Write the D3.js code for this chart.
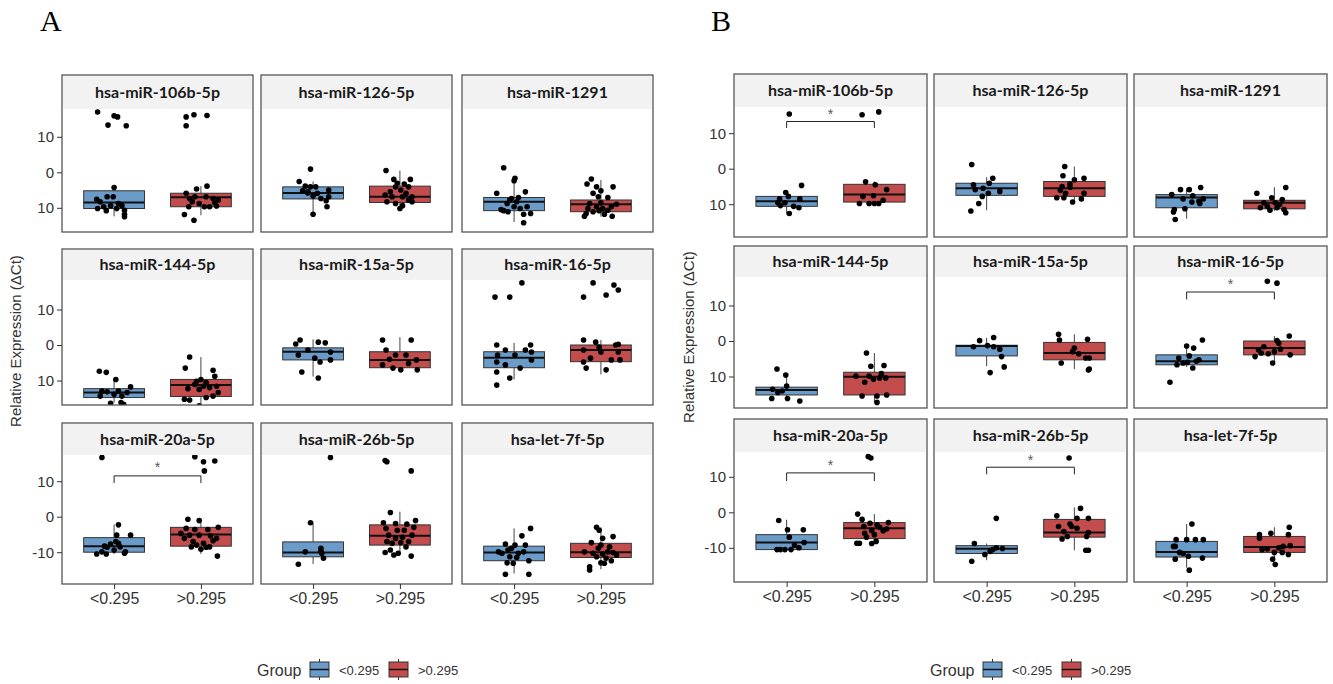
<!DOCTYPE html>
<html><head><meta charset="utf-8">
<script src="https://cdn.jsdelivr.net/npm/d3@7"></script>
<style>body{margin:0;background:#fff}svg{display:block}</style>
</head><body>
<svg id="chart" width="1333" height="684"></svg>
<script>
// ---------------- DATA ----------------
const groups = ["<0.295", ">0.295"];
const mirnas = ["hsa-miR-106b-5p","hsa-miR-126-5p","hsa-miR-1291","hsa-miR-144-5p","hsa-miR-15a-5p","hsa-miR-16-5p","hsa-miR-20a-5p","hsa-miR-26b-5p","hsa-let-7f-5p"];
const yTicks = [-10, 0, 10];
const yTickLabelsUpper = ["10", "0", "10"];   // as printed in rows 1-2
const yTickLabelsLower = ["-10", "0", "10"];  // as printed in row 3
const yTitle = "Relative Expression (\u0394Ct)";

// box stats per miRNA: [whiskerLow, q1, median, q3, whiskerHigh] for <0.295 and >0.295
const boxA = [
  [[-12.4,-10.2,-8.5,-5.2,-4.3],[-12.1,-9.7,-7.0,-5.9,-3.9]],
  [[-11.6,-7.5,-5.8,-4.1,-2.6],[-10.2,-8.5,-6.9,-3.9,0.5]],
  [[-14.0,-10.8,-8.3,-7.1,-1.2],[-12.5,-11.1,-9.0,-7.8,-2.2]],
  [[-16.2,-14.8,-13.4,-12.3,-9.7],[-16.7,-14.5,-11.3,-9.7,-3.4]],
  [[-8.9,-4.2,-1.9,-0.8,1.6],[-7.5,-6.4,-4.2,-1.9,2.2]],
  [[-9.7,-6.4,-3.6,-1.9,0.6],[-8.3,-4.7,-1.4,0.0,1.4]],
  [[-10.5,-10.0,-8.3,-5.9,-2.2],[-10.5,-8.3,-5.0,-3.0,-0.5]],
  [[-13.3,-11.3,-10.1,-7.1,-1.7],[-10.8,-8.0,-5.4,-2.3,1.4]],
  [[-16.0,-12.4,-10.1,-8.3,-3.3],[-14.8,-11.5,-10.0,-7.5,-3.0]]
];
const boxB = [
  [[-12.6,-10.6,-9.2,-7.8,-6.7],[-9.8,-9.4,-7.3,-4.4,-3.6]],
  [[-11.7,-7.5,-5.5,-4.1,-2.4],[-9.6,-7.8,-5.5,-3.6,0.6]],
  [[-14.1,-11.0,-8.1,-7.3,-5.5],[-11.9,-11.3,-9.6,-8.9,-5.2]],
  [[-16.6,-15.2,-13.8,-13.0,-9.4],[-17.3,-15.2,-10.1,-8.8,-3.4]],
  [[-7.1,-4.2,-1.4,-1.2,0.9],[-7.9,-5.3,-3.4,-0.4,1.9]],
  [[-7.3,-6.7,-5.7,-3.9,-1.1],[-6.2,-3.9,-2.0,0.0,1.4]],
  [[-10.5,-10.5,-8.5,-6.3,-2.1],[-8.8,-7.4,-4.5,-2.9,-0.5]],
  [[-13.5,-11.6,-10.3,-9.4,-8.8],[-10.7,-7.0,-5.7,-2.0,1.4]],
  [[-15.6,-12.6,-11.2,-8.2,-3.3],[-12.9,-11.3,-9.8,-6.8,-4.2]]
];

// jittered points: [horizontal jitter (category units), value]
const pointsA_low = [
  [[-0.19,17.0],[-0.07,13.3],[0,15.9],[0.04,15.6],[0.14,13.1],[0,-4.3],[-0.08,-6.9],[-0.01,-6.9],[-0.2,-7.6],[-0.16,-8.3],[-0.19,-10.2],[-0.09,-10.8],[-0.04,-9.4],[0.05,-8.8],[0.09,-9.4],[0.12,-10.7],[0.12,-11.8],[0.12,-12.5],[-0.12,-9.7],[0.03,-10.2]],
  [[-0.03,0.9],[-0.16,-2.6],[-0.09,-3.9],[-0.03,-4.1],[0.03,-4.1],[-0.12,-5.2],[-0.06,-5.8],[0,-6.7],[0.09,-7.4],[0.18,-5.0],[0.18,-6.9],[0.15,-8.0],[0.16,-9.7],[0,-11.8],[-0.06,-5.5],[0.05,-5.9]],
  [[-0.12,1.3],[0.01,-1.7],[0,-2.4],[-0.2,-5.9],[0.13,-5.5],[0.05,-7.1],[-0.05,-7.8],[-0.08,-8.8],[-0.12,-10.8],[-0.07,-11.1],[0,-9.7],[0.07,-10.2],[0.15,-9.7],[0.19,-11.6],[0.11,-11.8],[0.03,-8.3],[-0.03,-7.4],[-0.15,-10.5],[0.11,-14.2]],
  [[-0.17,-7.4],[-0.09,-7.7],[0.02,-9.7],[0.19,-11.8],[-0.14,-13.0],[-0.08,-13.2],[0,-13.9],[0.05,-13.0],[0.09,-14.4],[-0.04,-16.4],[0.08,-16.2],[0.11,-16.7],[-0.16,-14.4],[0.15,-13.4]],
  [[-0.15,1.4],[0.06,0.8],[-0.2,0.3],[0.14,0.6],[0.2,-2.0],[-0.06,-1.4],[0.02,-3.7],[-0.17,-2.8],[0.08,-4.8],[-0.13,-7.6],[0.06,-9.3],[0.2,-4.2]],
  [[-0.22,13.5],[-0.05,13.5],[0.09,17.5],[-0.2,0],[-0.1,-1.4],[0.19,0],[-0.19,-2.8],[0.01,-2.8],[0.2,-4.2],[-0.2,-4.8],[-0.1,-5.6],[0.07,-6.5],[-0.2,-7.6],[-0.05,-9.3],[-0.2,-11.3],[0.13,-1.4],[0.2,-2.0]],
  [[-0.14,16.7],[0.05,-2.3],[0.03,-5.2],[0.19,-5.2],[0.02,-7.0],[-0.04,-7.7],[-0.11,-8.3],[-0.08,-8.6],[-0.2,-10.5],[-0.09,-10.5],[0,-9.4],[0.07,-8.5],[0.12,-10.3],[0.13,-9.9],[-0.14,-9.9],[0.05,-7.5]],
  [[0.2,16.7],[-0.03,-1.7],[-0.09,-9.9],[0.09,-8.9],[0.1,-10.3],[0.12,-11.7],[0.09,-9.6],[-0.17,-13.4]],
  [[0.19,-3.3],[0.09,-5.4],[-0.1,-7.7],[0.01,-8.0],[0.13,-8.0],[-0.07,-9.4],[-0.18,-9.9],[0.05,-10.3],[0.11,-9.9],[-0.05,-11.3],[0.03,-11.5],[0.17,-12.4],[-0.08,-13.0],[-0.01,-13.1],[-0.1,-16.2],[0.17,-16.2],[-0.14,-10.3],[-0.03,-8.9]]
];
const pointsA_high = [
  [[-0.17,13.1],[-0.17,15.6],[-0.08,16.2],[0.07,16.0],[0.07,-3.9],[-0.05,-4.7],[-0.17,-5.9],[-0.07,-6.9],[-0.1,-8.3],[-0.14,-9.7],[-0.19,-11.9],[-0.08,-13.5],[0.14,-7.4],[0.2,-7.8],[0.18,-9.5],[0.1,-9.7],[0.04,-9.7],[-0.02,-8.8],[-0.13,-7.4],[0.06,-6.9],[0.16,-8.6]],
  [[-0.16,0.5],[-0.07,-2.0],[0.12,-2.0],[0.05,-3.3],[-0.05,-4.1],[-0.11,-5.5],[-0.17,-6.4],[-0.15,-8.3],[-0.05,-8.8],[0,-10.2],[0.03,-6.9],[0.1,-7.8],[0.14,-8.3],[0.07,-5.9],[-0.09,-6.9],[0.01,-5.0],[-0.03,-3.1],[0.1,-4.1],[0.14,-6.9],[0.03,-9.4]],
  [[-0.11,-1.9],[-0.16,-3.3],[-0.05,-4.1],[0.14,-4.1],[0,-5.2],[-0.09,-5.9],[-0.03,-6.9],[0.08,-7.1],[-0.13,-8.8],[-0.05,-9.7],[0.02,-10.2],[0.12,-9.7],[0.18,-9.0],[-0.17,-11.6],[-0.19,-12.4],[-0.09,-11.1],[0.04,-11.8],[0.13,-12.4],[0,-8.6],[-0.15,-10.2],[0.08,-10.7],[-0.02,-10.8]],
  [[-0.13,-3.4],[-0.18,-6.5],[0.14,-7.1],[0,-9.7],[-0.05,-10.2],[0.06,-10.6],[0.16,-8.8],[0.18,-11.6],[-0.15,-12.3],[-0.02,-12.5],[0.1,-12.0],[0.2,-13.4],[-0.19,-15.3],[-0.13,-15.5],[-0.02,-17.1],[0.06,-14.8],[0.14,-14.4],[-0.07,-11.1],[0.03,-11.6]],
  [[-0.2,1.4],[0.13,1.4],[-0.16,-1.4],[-0.05,-2.8],[0.07,-2.8],[0.19,-4.2],[-0.2,-5.6],[-0.08,-6.5],[0.01,-7.0],[0.2,-7.0],[-0.12,-4.0],[0.1,-5.2]],
  [[-0.09,17.5],[0.06,14.1],[0.2,15.5],[0.15,16.9],[-0.2,13.5],[-0.2,1.4],[-0.06,0.8],[0.17,0],[0.2,0.2],[-0.2,-1.4],[0,-2.0],[0.2,-2.0],[-0.12,-3.7],[0.12,-4.2],[0.22,-4.2],[-0.17,-6.5],[0.06,-7.0],[-0.2,-4.8],[-0.02,-0.6]],
  [[-0.07,16.9],[0.03,15.5],[0.16,15.7],[0.04,12.9],[-0.15,-0.7],[-0.02,-1.1],[-0.17,-3.3],[-0.07,-3.6],[0.08,-3.6],[0.2,-3.0],[-0.13,-5.2],[-0.02,-5.2],[0.11,-5.4],[0.18,-6.1],[-0.19,-6.1],[-0.09,-7.0],[0.03,-7.5],[0.14,-6.8],[-0.05,-8.0],[0,-9.2],[0.06,-8.6],[0.19,-11.1],[0.1,-8.5],[-0.11,-8.5],[-0.23,-4.7]],
  [[-0.17,15.8],[-0.15,15.5],[0.13,12.9],[-0.11,1.2],[-0.19,-1.7],[-0.05,-1.9],[0.08,-2.1],[0.18,-1.1],[-0.16,-3.3],[-0.03,-3.8],[0.05,-3.8],[0.16,-3.0],[-0.13,-5.2],[-0.05,-6.1],[0.03,-5.8],[0.14,-5.2],[0.1,-7.0],[-0.15,-7.0],[-0.09,-7.5],[0.01,-7.3],[-0.11,-9.4],[-0.17,-10.1],[-0.07,-10.8],[-0.02,-10.3],[0.13,-11.1],[0.07,-8.5]],
  [[-0.05,-3.0],[-0.02,-3.8],[0.14,-5.6],[0.02,-6.1],[-0.11,-7.3],[0,-8.0],[0.1,-8.5],[-0.03,-8.9],[-0.19,-9.9],[-0.09,-10.3],[0.02,-10.5],[0.14,-10.1],[0.18,-10.8],[-0.05,-11.3],[0.06,-11.7],[0.12,-12.4],[0,-13.0],[-0.13,-14.1],[-0.13,-15.0],[0.04,-13.1],[0.08,-9.9]]
];
const pointsB_low = [
  [[0.03,15.4],[0.17,-4.7],[-0.01,-6.7],[0.02,-7.8],[-0.08,-8.5],[0.15,-8.5],[-0.1,-9.6],[-0.07,-10.4],[0.08,-10.6],[0.14,-11.0],[0.03,-12.6],[-0.02,-9.6]],
  [[-0.17,1.2],[0.07,-2.7],[0.03,-4.1],[-0.15,-4.5],[-0.13,-5.9],[-0.04,-5.5],[0.15,-6.4],[-0.05,-7.8],[-0.09,-9.8],[-0.18,-11.9],[0.02,-6.9]],
  [[0.16,-5.3],[-0.07,-5.9],[0.03,-5.9],[-0.17,-7.3],[-0.04,-8.5],[0.07,-7.6],[0.19,-8.5],[0.15,-9.8],[-0.14,-11.5],[-0.15,-12.2],[-0.02,-11.3],[-0.13,-14.3],[0.14,-9.2],[0.06,-9.4]],
  [[-0.11,-7.9],[-0.01,-9.6],[0,-12.7],[-0.16,-13.6],[-0.1,-14.5],[-0.17,-16.2],[0.01,-16.2],[0.15,-16.9],[-0.05,-14.1]],
  [[-0.08,0.1],[0.08,1.0],[-0.15,-1.6],[0.01,-1.3],[0.08,-1.6],[0.15,-2.3],[0.17,-4.4],[0.04,-8.9],[0.2,-7.3]],
  [[-0.19,-11.6],[0,-1.4],[0.08,-2.0],[0.18,0.3],[-0.09,-4.8],[0.03,-4.2],[0.11,-5.7],[-0.04,-6.2],[-0.11,-6.7],[0.07,-7.6],[0.14,-5.3],[0.01,-6.0]],
  [[-0.09,-2.3],[0.01,-4.9],[0.19,-4.9],[0.03,-7.0],[0.2,-8.5],[0.09,-9.3],[-0.11,-10.5],[-0.07,-10.5],[-0.02,-10.5],[0.05,-10.5],[0.14,-10.0]],
  [[0.11,-1.7],[-0.14,-8.8],[0.18,-10.2],[0.07,-10.5],[0.04,-11.0],[-0.02,-11.9],[-0.17,-13.8],[0.11,-10.0]],
  [[0.06,-3.3],[-0.12,-7.7],[0,-7.7],[0.1,-7.7],[0.19,-7.7],[-0.15,-9.6],[-0.13,-9.6],[-0.04,-11.6],[-0.08,-11.3],[0.02,-12.4],[-0.13,-13.2],[0.18,-12.9],[0.03,-16.3]]
];
const pointsB_high = [
  [[-0.14,15.2],[0.05,16.0],[-0.1,-3.7],[0.01,-4.5],[-0.13,-7.8],[-0.01,-7.6],[0.14,-5.9],[0.1,-8.9],[-0.06,-9.8],[0,-9.8],[0.05,-9.8],[-0.17,-9.8]],
  [[-0.11,0.6],[-0.13,-2.0],[0.11,-2.7],[0,-3.1],[-0.05,-4.3],[-0.14,-5.0],[-0.16,-6.1],[-0.1,-6.9],[-0.2,-8.2],[-0.12,-8.2],[-0.02,-9.4],[0.08,-8.5],[0.11,-6.9],[-0.05,-5.2]],
  [[0.13,-5.3],[-0.2,-6.9],[-0.03,-8.2],[0.09,-8.7],[-0.12,-9.6],[-0.08,-10.6],[-0.16,-11.0],[-0.05,-11.7],[0.03,-11.0],[0.11,-11.5],[0.13,-12.4],[0.01,-9.6],[0.06,-10.1]],
  [[-0.09,-3.4],[-0.04,-7.1],[0.11,-6.9],[-0.21,-9.9],[0.08,-9.2],[0.06,-10.4],[-0.11,-11.6],[-0.01,-10.8],[0.13,-10.4],[-0.14,-15.5],[0.03,-15.5],[0.14,-15.2],[0.03,-17.3],[-0.06,-9.9]],
  [[-0.18,1.9],[-0.17,0.3],[0.15,0.5],[0,-2.0],[0.05,-3.6],[-0.15,-6.2],[0.13,-4.8],[0.17,-4.8],[0.17,-7.9],[0.16,-8.2],[-0.02,-3.0]],
  [[-0.08,16.8],[0.03,16.3],[0.17,1.4],[0.03,0.1],[0.05,-0.6],[-0.12,-1.6],[0.07,-2.3],[-0.15,-3.4],[-0.07,-3.6],[0,-3.0],[0.18,-3.9],[-0.02,-6.2],[-0.22,-4.4],[-0.18,-2.5]],
  [[-0.07,15.7],[-0.04,15.3],[-0.19,-0.5],[-0.14,-2.0],[-0.05,-3.1],[0.03,-3.5],[0.16,-2.9],[-0.12,-4.0],[0.06,-4.2],[0.14,-4.7],[-0.03,-5.1],[0.1,-5.2],[0,-6.3],[-0.09,-7.0],[-0.2,-8.7],[-0.17,-8.7],[-0.03,-8.8],[0.02,-8.2],[-0.11,-5.9]],
  [[-0.06,15.3],[0.07,1.1],[-0.2,-1.0],[0.03,-1.7],[0.16,-1.7],[-0.05,-3.3],[-0.18,-4.0],[-0.03,-4.0],[-0.12,-5.4],[0.03,-4.5],[0.16,-5.7],[0.14,-6.8],[-0.14,-7.5],[-0.08,-6.8],[0.13,-10.7],[0.16,-10.7]],
  [[0.17,-4.2],[-0.04,-5.9],[-0.17,-6.3],[0.16,-6.3],[-0.17,-7.3],[0.18,-9.4],[-0.08,-10.3],[-0.14,-10.5],[0.05,-10.0],[0,-11.3],[0.09,-11.3],[0.16,-11.9],[-0.02,-13.2],[0.01,-14.7],[0.1,-9.6]]
];

// significance brackets: panel index, bracket line value, bracket foot value, star value
const sigA = [[6, 11.5, 9.5, 14.8]];
const sigB = [[0, 13.3, 11.5, 16.3],[5, 13.8, 11.7, 16.8],[6, 11.1, 8.8, 14.3],[7, 12.7, 10.7, 15.5]];

// ---------------- STYLE / LAYOUT ----------------
const colors = ["#6b9bc8", "#c34c4c"];
const tickFont = "'Liberation Sans', Arial, sans-serif";
const stripFont = "Lato, 'Open Sans', sans-serif";
const UNIT10 = 35.5;   // px per 10 units on y

const figs = [
  {label:"A", lx:40, box:boxA, low:pointsA_low, high:pointsA_high, sig:sigA,
   colX:[62,261,462], w:191,
   rowTop:[75,249,423], stripBot:[109,280,455], rowBot:[232,405,584], zeroY:[172.3,345,516.7],
   titleX:21, titleY:341, legendX:257},
  {label:"B", lx:711, box:boxB, low:pointsB_low, high:pointsB_high, sig:sigB,
   colX:[734,934,1134], w:193,
   rowTop:[74,246,419], stripBot:[107,277,452], rowBot:[237,408,582], zeroY:[168.7,341,512.3],
   titleX:694, titleY:337, legendX:930}
];

const svg = d3.select("#chart");
let clipId = 0;

figs.forEach(f => {
  const g = svg.append("g");
  g.append("text").attr("x", f.lx).attr("y", 31).text(f.label)
    .attr("font-family", "'Liberation Serif','Times New Roman',serif").attr("font-size", 30).attr("fill", "#000");

  mirnas.forEach((m, i) => {
    const r = Math.floor(i / 3), c = i % 3;
    const x0 = f.colX[c], w = f.w;
    const top = f.rowTop[r], sb = f.stripBot[r], bot = f.rowBot[r];
    const x = d3.scalePoint().domain(groups).range([x0, x0 + w]).padding(0.6);
    const step = x.step();
    const y = d3.scaleLinear().domain([-10, 10]).range([f.zeroY[r] + UNIT10, f.zeroY[r] - UNIT10]);
    const pg = g.append("g");

    // strip
    pg.append("rect").attr("x", x0 + 1).attr("y", top + 1).attr("width", w - 2).attr("height", sb - top - 1).attr("fill", "#f2f2f2");
    pg.append("text").attr("x", x0 + w / 2).attr("y", (top + sb) / 2 + 5.5).attr("text-anchor", "middle")
      .attr("font-family", stripFont).attr("font-weight", "bold").attr("font-size", 16).attr("fill", "#1a1a1a").text(m);

    // clip
    const cid = "clip" + (clipId++);
    pg.append("clipPath").attr("id", cid).append("rect").attr("x", x0).attr("y", sb).attr("width", w).attr("height", bot - sb);
    const plot = pg.append("g").attr("clip-path", `url(#${cid})`);

    groups.forEach((gr, gi) => {
      const s = f.box[i][gi];
      const cx = x(gr), bw = step * 0.7;
      plot.append("line").attr("x1", cx).attr("x2", cx).attr("y1", y(s[0])).attr("y2", y(s[1])).attr("stroke", "#444").attr("stroke-width", 1);
      plot.append("line").attr("x1", cx).attr("x2", cx).attr("y1", y(s[3])).attr("y2", y(s[4])).attr("stroke", "#444").attr("stroke-width", 1);
      plot.append("rect").attr("x", cx - bw / 2).attr("width", bw).attr("y", y(s[3])).attr("height", y(s[1]) - y(s[3]))
        .attr("fill", colors[gi]).attr("stroke", "#333").attr("stroke-width", 1);
      plot.append("line").attr("x1", cx - bw / 2).attr("x2", cx + bw / 2).attr("y1", y(s[2])).attr("y2", y(s[2])).attr("stroke", "#111").attr("stroke-width", 2);
      const pts = gi === 0 ? f.low[i] : f.high[i];
      plot.selectAll(null).data(pts).enter().append("circle")
        .attr("cx", d => cx + d[0] * step).attr("cy", d => y(d[1])).attr("r", 2.8).attr("fill", "#000");
    });

    // significance
    f.sig.filter(s => s[0] === i).forEach(s => {
      const xa = x(groups[0]), xb = x(groups[1]);
      pg.append("path").attr("d", `M${xa},${y(s[2])}V${y(s[1])}H${xb}V${y(s[2])}`).attr("fill", "none").attr("stroke", "#222").attr("stroke-width", 1);
      pg.append("text").attr("x", (xa + xb) / 2).attr("y", y(s[3]) + 8).attr("text-anchor", "middle")
        .attr("font-family", tickFont).attr("font-size", 14).attr("fill", "#555").text("*");
    });

    // panel border
    pg.append("rect").attr("x", x0).attr("y", top).attr("width", w).attr("height", bot - top)
      .attr("fill", "none").attr("stroke", "#555").attr("stroke-width", 1.3);

    // y axis on first column
    if (c === 0) {
      const labels = r === 2 ? yTickLabelsLower : yTickLabelsUpper;
      const ax = d3.axisLeft(y).tickValues(yTicks).tickSize(5).tickPadding(3)
        .tickFormat((d, k) => labels[k]);
      const ag = pg.append("g").attr("transform", `translate(${x0},0)`).call(ax);
      ag.select(".domain").remove();
      ag.selectAll("line").attr("stroke", "#333");
      ag.selectAll("text").attr("font-family", tickFont).attr("font-size", 15).attr("fill", "#333");
    }
    // x axis on bottom row
    if (r === 2) {
      const ax = d3.axisBottom(x).tickSize(5).tickPadding(4);
      const ag = pg.append("g").attr("transform", `translate(0,${bot})`).call(ax);
      ag.select(".domain").remove();
      ag.selectAll("line").attr("stroke", "#333");
      ag.selectAll("text").attr("font-family", tickFont).attr("font-size", 16).attr("fill", "#333");
    }
  });

  // y title
  g.append("text").attr("transform", `translate(${f.titleX},${f.titleY}) rotate(-90)`).attr("text-anchor", "middle")
    .attr("font-family", tickFont).attr("font-size", 15).attr("fill", "#333").text(yTitle);

  // legend
  const lg = g.append("g").attr("transform", `translate(${f.legendX},0)`);
  lg.append("text").attr("x", 0).attr("y", 676).attr("font-family", tickFont).attr("font-size", 16).attr("fill", "#333").text("Group");
  const keyX = [53, 132];
  groups.forEach((gr, gi) => {
    const kx = keyX[gi];
    lg.append("line").attr("x1", kx + 9.5).attr("x2", kx + 9.5).attr("y1", 659).attr("y2", 680).attr("stroke", "#333");
    lg.append("rect").attr("x", kx).attr("y", 662).attr("width", 19).attr("height", 15).attr("fill", colors[gi]).attr("stroke", "#333");
    lg.append("line").attr("x1", kx).attr("x2", kx + 19).attr("y1", 669.5).attr("y2", 669.5).attr("stroke", "#111").attr("stroke-width", 1.5);
    lg.append("text").attr("x", kx + 29).attr("y", 675).attr("font-family", tickFont).attr("font-size", 13).attr("fill", "#333").text(gr);
  });
});
</script>
</body></html>
